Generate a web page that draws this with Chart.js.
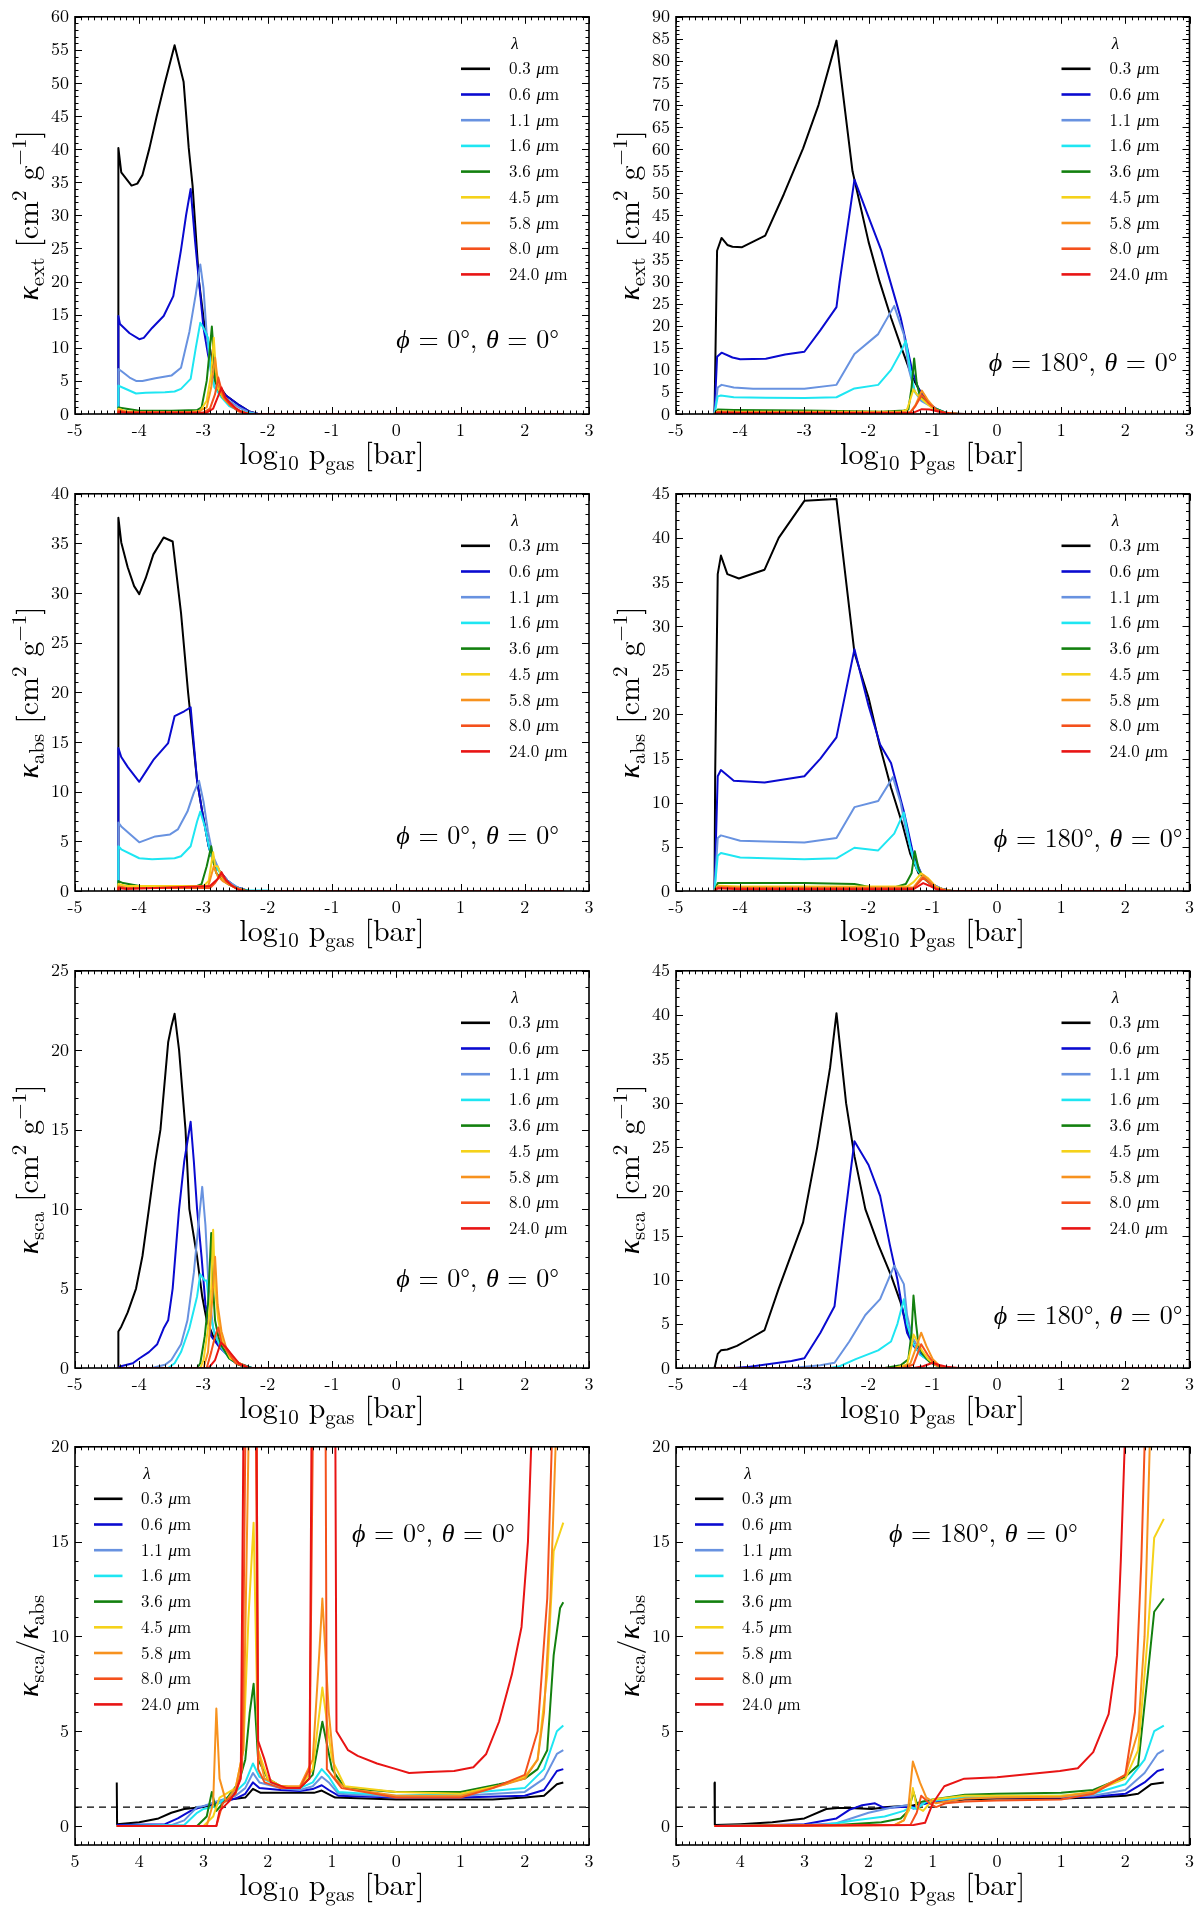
<!DOCTYPE html>
<html><head><meta charset="utf-8">
<script src="https://cdn.jsdelivr.net/npm/chart.js@4.4.1/dist/chart.umd.min.js"></script>
<style>
html,body{margin:0;padding:0;background:#fff;}
#wrap{position:relative;width:1200px;height:1910px;background:#fff;overflow:hidden;}
canvas{position:absolute;}
</style></head><body><div id="wrap"></div>
<script>
// ---------- categories / labels ----------
const WAVELENGTHS = ['0.3','0.6','1.1','1.6','3.6','4.5','5.8','8.0','24.0'];
const X_TICKS = [-5,-4,-3,-2,-1,0,1,2,3];
const Y_TICKS_EXT0 = [0,5,10,15,20,25,30,35,40,45,50,55,60];
const Y_TICKS_EXT180 = [0,5,10,15,20,25,30,35,40,45,50,55,60,65,70,75,80,85,90];
const Y_TICKS_ABS0 = [0,5,10,15,20,25,30,35,40];
const Y_TICKS_ABS180 = [0,5,10,15,20,25,30,35,40,45];
const Y_TICKS_SCA0 = [0,5,10,15,20,25];
const Y_TICKS_SCA180 = [0,5,10,15,20,25,30,35,40,45];
const Y_TICKS_RATIO = [0,5,10,15,20];

// ---------- kappa_ext, phi=0 ----------
const ext0_w03 = [[-4.33,0],[-4.325,40.2],[-4.28,36.5],[-4.12,34.5],[-4.03,34.8],[-3.95,36.1],[-3.84,40.2],[-3.73,44.9],[-3.61,49.7],[-3.45,55.7],[-3.31,50.2],[-3.23,40.2],[-3.17,34.5],[-3.07,20],[-2.98,13],[-2.9,10],[-2.85,7],[-2.77,4.5],[-2.65,2.8],[-2.47,1.5],[-2.29,0.4],[-2.15,0],[2.6,0]];
const ext0_w06 = [[-4.33,0],[-4.325,14.8],[-4.3,13.6],[-4.15,12.2],[-4.0,11.3],[-3.93,11.5],[-3.8,13],[-3.62,14.8],[-3.47,17.8],[-3.35,24.8],[-3.27,30.1],[-3.2,34],[-3.13,26],[-3.07,20],[-3.0,13],[-2.93,9],[-2.86,6],[-2.78,4.2],[-2.65,2.8],[-2.47,1.5],[-2.29,0.4],[-2.15,0],[2.6,0]];
const ext0_w11 = [[-4.33,0],[-4.325,6.8],[-4.28,6.5],[-4.15,5.5],[-4.05,5.0],[-3.95,5.0],[-3.75,5.4],[-3.5,5.8],[-3.35,7.0],[-3.22,12.4],[-3.12,18.1],[-3.05,22.6],[-3.0,19],[-2.95,12],[-2.88,6],[-2.82,4],[-2.72,3],[-2.6,2],[-2.45,1],[-2.3,0.3],[-2.15,0],[2.6,0]];
const ext0_w16 = [[-4.33,0],[-4.325,4.3],[-4.26,4.0],[-4.05,3.1],[-3.9,3.2],[-3.6,3.3],[-3.45,3.4],[-3.35,3.8],[-3.2,5.3],[-3.12,10],[-3.05,13.8],[-3.0,13],[-2.93,11.5],[-2.88,6],[-2.83,4],[-2.72,2.5],[-2.6,1.2],[-2.4,0.3],[-2.2,0],[2.6,0]];
const ext0_w36 = [[-4.33,0],[-4.325,1],[-4.2,0.8],[-4.0,0.5],[-3.5,0.5],[-3.1,0.6],[-3.03,1],[-2.95,5],[-2.9,10],[-2.87,13.2],[-2.84,9],[-2.82,5],[-2.76,3.5],[-2.7,2.5],[-2.6,1.5],[-2.45,0.5],[-2.3,0],[2.6,0]];
const ext0_w45 = [[-4.33,0],[-4.325,0.8],[-4.2,0.4],[-4.0,0.3],[-3.2,0.3],[-3.05,0.5],[-2.95,2],[-2.88,6],[-2.84,11.5],[-2.81,7],[-2.78,4],[-2.7,2.5],[-2.6,1.5],[-2.45,0.5],[-2.3,0],[2.6,0]];
const ext0_w58 = [[-4.33,0],[-4.325,0.6],[-4.2,0.3],[-3.1,0.3],[-2.95,1],[-2.88,4],[-2.82,8.5],[-2.79,6],[-2.74,3.5],[-2.68,2.3],[-2.58,1.3],[-2.45,0.4],[-2.3,0],[2.6,0]];
const ext0_w80 = [[-4.33,0],[-4.325,0.5],[-4.2,0.25],[-3.0,0.2],[-2.9,0.8],[-2.82,3],[-2.77,5.5],[-2.73,4],[-2.68,2.5],[-2.58,1.3],[-2.45,0.4],[-2.3,0],[2.6,0]];
const ext0_w240 = [[-4.33,0],[-4.325,0.3],[-4.2,0.2],[-2.95,0.2],[-2.85,0.8],[-2.78,2.5],[-2.72,4],[-2.66,2.5],[-2.6,1.8],[-2.5,0.9],[-2.4,0.3],[-2.3,0],[2.6,0]];

// ---------- kappa_ext, phi=180 ----------
const ext180_w03 = [[-4.4,0],[-4.36,37],[-4.29,39.9],[-4.2,38.3],[-4.12,37.9],[-3.97,37.8],[-3.61,40.4],[-3.32,49.8],[-3.02,60.2],[-2.78,70],[-2.5,84.6],[-2.36,68],[-2.25,55],[-2.0,39],[-1.83,30.1],[-1.65,21.8],[-1.47,14.3],[-1.32,8.3],[-1.17,4.5],[-1.0,1.5],[-0.85,0.4],[-0.7,0.1],[-0.5,0],[2.0,0]];
const ext180_w06 = [[-4.4,0],[-4.36,13],[-4.29,13.9],[-4.12,12.8],[-4.0,12.4],[-3.6,12.5],[-3.3,13.5],[-3.0,14.1],[-2.75,19],[-2.5,24.2],[-2.45,30],[-2.22,53.1],[-2.01,45],[-1.8,37],[-1.62,27.9],[-1.5,21.8],[-1.41,15.8],[-1.32,9.8],[-1.23,6],[-1.11,3],[-0.94,1.1],[-0.8,0.3],[-0.6,0],[2.0,0]];
const ext180_w11 = [[-4.4,0],[-4.35,6],[-4.29,6.6],[-4.1,6],[-3.8,5.7],[-3.0,5.7],[-2.5,6.6],[-2.22,13.6],[-1.85,18.1],[-1.6,24.5],[-1.45,18],[-1.37,10],[-1.28,5],[-1.18,3],[-1.0,1.5],[-0.8,0.3],[-0.6,0],[2.0,0]];
const ext180_w16 = [[-4.4,0],[-4.35,4],[-4.3,4.2],[-4.1,3.8],[-3.6,3.7],[-3.0,3.6],[-2.5,3.8],[-2.22,5.8],[-1.85,6.6],[-1.65,10],[-1.5,14],[-1.42,16.6],[-1.35,10],[-1.28,5],[-1.15,3],[-1.0,1.5],[-0.8,0.3],[-0.6,0],[2.0,0]];
const ext180_w36 = [[-4.4,0],[-4.35,1],[-4.1,0.9],[-3.0,0.8],[-2.2,0.6],[-1.8,0.5],[-1.45,0.8],[-1.38,1],[-1.33,6],[-1.29,12.6],[-1.25,7],[-1.2,4],[-1.12,3],[-1.0,1.5],[-0.8,0.3],[-0.6,0],[2.0,0]];
const ext180_w45 = [[-4.4,0],[-4.35,0.6],[-4.0,0.5],[-1.5,0.5],[-1.4,1],[-1.3,5.6],[-1.25,4.5],[-1.18,3.5],[-1.1,2.5],[-0.98,1],[-0.8,0.2],[-0.6,0],[2.0,0]];
const ext180_w58 = [[-4.4,0],[-4.35,0.5],[-4.0,0.4],[-1.35,0.4],[-1.27,2],[-1.17,5.3],[-1.07,3],[-0.95,1],[-0.8,0.2],[-0.6,0],[2.0,0]];
const ext180_w80 = [[-4.4,0],[-4.35,0.4],[-4.0,0.3],[-1.35,0.3],[-1.27,1.8],[-1.17,4.3],[-1.07,2.5],[-0.95,1],[-0.8,0.2],[-0.6,0],[2.0,0]];
const ext180_w240 = [[-4.4,0],[-4.35,0.3],[-4.0,0.2],[-1.3,0.3],[-1.17,1.1],[-1.05,1],[-0.9,0.5],[-0.75,0.1],[-0.6,0],[2.0,0]];

// ---------- kappa_abs, phi=0 ----------
const abs0_w03 = [[-4.33,0],[-4.325,37.6],[-4.28,35.1],[-4.18,32.6],[-4.08,30.7],[-4.0,29.9],[-3.9,31.5],[-3.78,33.9],[-3.62,35.6],[-3.48,35.2],[-3.35,28],[-3.24,20],[-3.2,17.5],[-3.1,11.1],[-3.02,8],[-2.92,4.5],[-2.85,3],[-2.75,2],[-2.62,1],[-2.5,0.4],[-2.3,0],[2.6,0]];
const abs0_w06 = [[-4.33,0],[-4.325,14.4],[-4.28,13.5],[-4.18,12.5],[-4.0,11],[-3.9,12],[-3.78,13.2],[-3.55,14.9],[-3.45,17.6],[-3.3,18.1],[-3.2,18.5],[-3.1,11.1],[-3.02,8],[-2.92,4.5],[-2.85,3],[-2.75,2],[-2.62,1],[-2.5,0.4],[-2.3,0],[2.6,0]];
const abs0_w11 = [[-4.33,0],[-4.325,6.9],[-4.28,6.5],[-4.0,4.9],[-3.75,5.5],[-3.52,5.7],[-3.4,6.2],[-3.25,8],[-3.15,9.9],[-3.07,11.1],[-3.0,9],[-2.93,6],[-2.85,3.5],[-2.75,2],[-2.62,1],[-2.45,0.3],[-2.3,0],[2.6,0]];
const abs0_w16 = [[-4.33,0],[-4.325,4.5],[-4.28,4.2],[-4.0,3.3],[-3.8,3.2],[-3.45,3.3],[-3.35,3.5],[-3.2,4.5],[-3.1,7],[-3.05,8],[-2.98,6.5],[-2.9,4],[-2.82,2.5],[-2.7,1.5],[-2.6,0.7],[-2.45,0.2],[-2.3,0.05],[-2.0,0.05],[-1.95,0],[2.6,0]];
const abs0_w36 = [[-4.33,0],[-4.325,1],[-4.25,0.8],[-4.0,0.5],[-3.1,0.5],[-3.03,0.7],[-2.95,2.5],[-2.88,4.5],[-2.85,3],[-2.8,1.8],[-2.72,1.2],[-2.62,0.7],[-2.45,0.2],[-2.3,0],[2.6,0]];
const abs0_w45 = [[-4.33,0],[-4.325,0.7],[-4.2,0.5],[-3.0,0.5],[-2.92,1],[-2.85,3.9],[-2.82,2.5],[-2.78,2.5],[-2.7,1.2],[-2.5,0.3],[-2.35,0],[2.6,0]];
const abs0_w58 = [[-4.33,0],[-4.325,0.5],[-4.2,0.3],[-3.0,0.3],[-2.92,0.6],[-2.84,2.5],[-2.78,1.5],[-2.7,1],[-2.5,0.3],[-2.35,0],[2.6,0]];
const abs0_w80 = [[-4.33,0],[-4.325,0.4],[-4.2,0.3],[-2.9,0.3],[-2.82,0.8],[-2.76,1.4],[-2.72,1.6],[-2.65,1],[-2.5,0.3],[-2.35,0],[2.6,0]];
const abs0_w240 = [[-4.33,0],[-4.325,0.3],[-4.2,0.2],[-2.9,0.5],[-2.78,1.2],[-2.72,1.9],[-2.65,1.1],[-2.57,0.6],[-2.45,0.1],[-2.35,0],[2.6,0]];

// ---------- kappa_abs, phi=180 ----------
const abs180_w03 = [[-4.4,0],[-4.39,13],[-4.35,35.9],[-4.3,38],[-4.2,35.9],[-4.02,35.4],[-3.62,36.4],[-3.4,40],[-3.0,44.2],[-2.5,44.4],[-2.22,27],[-2.0,21.9],[-1.83,16.6],[-1.65,11.7],[-1.47,7.5],[-1.35,4.2],[-1.22,2],[-1.05,1],[-0.9,0.3],[-0.7,0],[2.0,0]];
const abs180_w06 = [[-4.4,0],[-4.35,13],[-4.3,13.7],[-4.1,12.5],[-3.62,12.3],[-3.0,13],[-2.75,15],[-2.5,17.4],[-2.22,27.4],[-2.0,21],[-1.82,16.6],[-1.65,14.5],[-1.45,9],[-1.3,4],[-1.18,2],[-1.02,0.8],[-0.85,0.2],[-0.7,0],[2.0,0]];
const abs180_w11 = [[-4.4,0],[-4.35,6],[-4.3,6.3],[-4.0,5.7],[-3.6,5.6],[-3.0,5.5],[-2.5,6],[-2.22,9.5],[-1.85,10.2],[-1.62,12.9],[-1.5,10],[-1.42,7],[-1.3,3.5],[-1.18,2],[-1.02,0.8],[-0.85,0.2],[-0.7,0],[2.0,0]];
const abs180_w16 = [[-4.4,0],[-4.35,4],[-4.3,4.3],[-4.0,3.8],[-3.6,3.7],[-3.0,3.6],[-2.5,3.7],[-2.22,4.9],[-1.85,4.6],[-1.6,6.5],[-1.45,8.9],[-1.35,5],[-1.25,2.5],[-1.15,1.5],[-1.0,0.6],[-0.85,0.1],[-0.7,0],[2.0,0]];
const abs180_w36 = [[-4.4,0],[-4.35,0.9],[-3.0,0.9],[-2.22,0.8],[-1.95,0.4],[-1.6,0.4],[-1.42,0.8],[-1.33,2],[-1.28,4.5],[-1.22,2.5],[-1.15,1.5],[-1.0,0.6],[-0.85,0.1],[-0.7,0],[2.0,0]];
const abs180_w45 = [[-4.4,0],[-4.35,0.6],[-4.0,0.5],[-1.4,0.5],[-1.3,1],[-1.18,2],[-1.08,1.5],[-0.95,0.5],[-0.8,0.1],[-0.7,0],[2.0,0]];
const abs180_w58 = [[-4.4,0],[-4.35,0.5],[-4.0,0.4],[-1.3,0.4],[-1.15,1.8],[-1.05,1.2],[-0.95,0.4],[-0.8,0.1],[-0.7,0],[2.0,0]];
const abs180_w80 = [[-4.4,0],[-4.35,0.4],[-4.0,0.3],[-1.3,0.3],[-1.15,1.5],[-1.05,0.9],[-0.95,0.3],[-0.8,0.05],[-0.7,0],[2.0,0]];
const abs180_w240 = [[-4.4,0],[-4.35,0.3],[-4.0,0.2],[-1.3,0.2],[-1.15,0.9],[-1.05,0.6],[-0.95,0.2],[-0.8,0],[2.0,0]];

// ---------- kappa_sca, phi=0 ----------
const sca0_w03 = [[-4.33,0],[-4.325,2.3],[-4.28,2.6],[-4.18,3.5],[-4.05,5.0],[-3.95,7.05],[-3.85,10],[-3.75,13],[-3.67,15],[-3.55,20.5],[-3.5,21.5],[-3.45,22.3],[-3.38,20],[-3.28,15],[-3.22,10],[-3.1,7],[-3.02,4.5],[-2.95,3],[-2.85,2],[-2.72,1.3],[-2.6,0.8],[-2.45,0.3],[-2.25,0],[2.6,0]];
const sca0_w06 = [[-4.33,0],[-4.3,0.1],[-4.1,0.3],[-4.0,0.6],[-3.85,1],[-3.72,1.5],[-3.62,2.5],[-3.55,3],[-3.48,5],[-3.38,10],[-3.3,13],[-3.2,15.5],[-3.15,13],[-3.1,10],[-3.03,7],[-2.97,4],[-2.88,2],[-2.75,1.3],[-2.6,0.7],[-2.45,0.2],[-2.25,0],[2.6,0]];
const sca0_w11 = [[-4.33,0],[-3.8,0],[-3.6,0.2],[-3.5,0.5],[-3.35,1.5],[-3.25,3],[-3.15,6],[-3.08,9],[-3.02,11.4],[-2.97,9],[-2.92,5],[-2.85,2.5],[-2.75,1.4],[-2.6,0.7],[-2.45,0.2],[-2.25,0],[2.6,0]];
const sca0_w16 = [[-4.33,0],[-3.55,0],[-3.45,0.3],[-3.35,1],[-3.22,2.5],[-3.1,4.5],[-3.05,5.9],[-2.98,5.5],[-2.95,5.5],[-2.9,3.5],[-2.82,2],[-2.72,1.3],[-2.6,0.6],[-2.45,0.2],[-2.25,0],[2.6,0]];
const sca0_w36 = [[-4.33,0],[-3.1,0],[-3.05,0.3],[-2.98,2],[-2.93,4],[-2.88,8.5],[-2.85,5],[-2.82,3],[-2.77,2],[-2.72,1.4],[-2.6,0.6],[-2.45,0.2],[-2.25,0],[2.6,0]];
const sca0_w45 = [[-4.33,0],[-3.05,0],[-3.0,0.5],[-2.93,2.5],[-2.88,5],[-2.85,8.7],[-2.82,5],[-2.77,3],[-2.7,1.6],[-2.58,0.6],[-2.3,0],[2.6,0]];
const sca0_w58 = [[-4.33,0],[-3.0,0],[-2.93,1],[-2.87,4],[-2.82,7],[-2.78,4],[-2.72,2.3],[-2.65,1.3],[-2.5,0.4],[-2.3,0],[2.6,0]];
const sca0_w80 = [[-4.33,0],[-2.95,0],[-2.88,1],[-2.82,2],[-2.77,2.55],[-2.72,1.6],[-2.62,1],[-2.5,0.3],[-2.3,0],[2.6,0]];
const sca0_w240 = [[-4.33,0],[-2.92,0],[-2.82,0.5],[-2.73,1.6],[-2.65,1.3],[-2.55,0.8],[-2.45,0.3],[-2.3,0],[2.6,0]];

// ---------- kappa_sca, phi=180 ----------
const sca180_w03 = [[-4.4,0],[-4.35,1.6],[-4.3,2.0],[-4.2,2.1],[-4.05,2.5],[-3.88,3.2],[-3.62,4.3],[-3.4,9],[-3.02,16.5],[-2.8,25],[-2.6,34],[-2.5,40.2],[-2.35,30],[-2.22,24],[-2.05,18],[-1.85,14],[-1.65,10.5],[-1.5,7.4],[-1.38,4],[-1.28,2.5],[-1.15,1.5],[-1.0,0.6],[-0.85,0.1],[-0.7,0],[2.6,0]];
const sca180_w06 = [[-4.4,0],[-4.1,0],[-3.9,0.1],[-3.6,0.4],[-3.2,0.8],[-3.0,1.1],[-2.75,4],[-2.53,7],[-2.37,17],[-2.22,25.7],[-2.0,23],[-1.82,19.5],[-1.67,14],[-1.55,10],[-1.48,7],[-1.4,4],[-1.3,2.5],[-1.15,1.3],[-1.0,0.5],[-0.85,0.1],[-0.7,0],[2.6,0]];
const sca180_w11 = [[-4.4,0],[-3.2,0],[-2.75,0.3],[-2.53,0.6],[-2.3,3],[-2.05,6],[-1.82,7.8],[-1.6,11.6],[-1.45,9.5],[-1.4,6],[-1.32,3.5],[-1.2,2],[-1.08,1],[-0.95,0.3],[-0.8,0],[2.6,0]];
const sca180_w16 = [[-4.4,0],[-2.6,0],[-2.45,0.2],[-2.2,1],[-1.85,2],[-1.65,3],[-1.55,5],[-1.45,7.8],[-1.4,5],[-1.32,3],[-1.2,1.5],[-1.05,0.8],[-0.9,0.2],[-0.8,0],[2.6,0]];
const sca180_w36 = [[-4.4,0],[-1.75,0],[-1.5,0.3],[-1.38,1],[-1.33,4],[-1.3,8.2],[-1.26,5],[-1.22,2.5],[-1.15,1.5],[-1.05,0.7],[-0.92,0.2],[-0.8,0],[2.6,0]];
const sca180_w45 = [[-4.4,0],[-1.6,0],[-1.4,0.4],[-1.33,2.5],[-1.3,3.8],[-1.24,3],[-1.17,2],[-1.07,1],[-0.95,0.3],[-0.8,0],[2.6,0]];
const sca180_w58 = [[-4.4,0],[-1.5,0],[-1.35,0.5],[-1.25,2.5],[-1.18,4],[-1.1,2.5],[-1.0,1],[-0.9,0.3],[-0.8,0],[2.6,0]];
const sca180_w80 = [[-4.4,0],[-1.45,0],[-1.3,0.4],[-1.18,2.7],[-1.08,1.5],[-0.98,0.5],[-0.85,0],[2.6,0]];
const sca180_w240 = [[-4.4,0],[-1.3,0],[-1.15,0.2],[-1.0,0.6],[-0.88,0.3],[-0.75,0.1],[-0.6,0],[2.6,0]];

// ---------- kappa_sca / kappa_abs, phi=0 ----------
const rat0_w03 = [[-4.35,2.3],[-4.345,0.1],[-4.0,0.2],[-3.7,0.4],[-3.5,0.7],[-3.3,0.9],[-3.0,1.0],[-2.59,1.4],[-2.35,1.5],[-2.23,1.96],[-2.11,1.75],[-1.5,1.75],[-1.28,1.75],[-1.16,1.87],[-0.95,1.5],[0,1.4],[1.5,1.4],[2,1.5],[2.3,1.6],[2.5,2.2],[2.6,2.3]];
const rat0_w06 = [[-4.35,0.05],[-3.6,0.1],[-3.4,0.4],[-3.2,0.8],[-3.0,1.05],[-2.8,1.2],[-2.5,1.45],[-2.35,1.7],[-2.23,2.3],[-2.13,2.0],[-1.8,1.9],[-1.5,1.85],[-1.3,1.95],[-1.16,2.15],[-1.05,1.9],[-0.9,1.6],[0,1.5],[1,1.5],[2,1.6],[2.3,1.9],[2.5,2.9],[2.6,3.0]];
const rat0_w11 = [[-4.35,0],[-3.5,0.05],[-3.3,0.3],[-3.1,1.0],[-3.0,1.05],[-2.8,1.3],[-2.5,1.6],[-2.35,2.0],[-2.23,2.8],[-2.13,2.3],[-1.8,2.0],[-1.5,1.9],[-1.3,2.1],[-1.16,2.6],[-1.05,2.3],[-0.9,1.7],[0,1.55],[1,1.6],[2,1.8],[2.3,2.5],[2.5,3.8],[2.6,4.0]];
const rat0_w16 = [[-4.35,0],[-3.3,0.05],[-3.1,0.7],[-3.0,0.9],[-2.85,1.0],[-2.5,1.8],[-2.35,2.3],[-2.23,3.3],[-2.13,2.6],[-1.8,2.05],[-1.5,2.0],[-1.3,2.3],[-1.16,3.0],[-1.05,2.6],[-0.9,1.8],[0,1.6],[1,1.7],[2,2.0],[2.3,3.0],[2.5,5.0],[2.6,5.3]];
const rat0_w36 = [[-4.35,0],[-3.1,0],[-2.95,0.5],[-2.87,1.8],[-2.8,0.8],[-2.65,1.4],[-2.45,2.3],[-2.35,3.5],[-2.28,6],[-2.22,7.5],[-2.15,3.5],[-2.0,2.5],[-1.8,2.1],[-1.5,2.0],[-1.3,2.7],[-1.15,5.5],[-1.0,3.0],[-0.8,2.0],[0,1.8],[1,1.8],[1.6,2.2],[2.0,2.5],[2.2,3.0],[2.35,4.0],[2.45,9],[2.55,11.5],[2.6,11.8]];
const rat0_w45 = [[-4.35,0],[-3.0,0],[-2.85,0.5],[-2.75,1.5],[-2.5,2.0],[-2.38,4],[-2.3,11],[-2.22,16],[-2.15,4],[-2.0,2.5],[-1.8,2.1],[-1.5,2.0],[-1.3,3],[-1.15,7.3],[-1.0,3.5],[-0.8,2.1],[0,1.8],[1,1.7],[1.7,2.2],[2.0,2.6],[2.2,3.5],[2.35,8],[2.45,14.5],[2.6,16]];
const rat0_w58 = [[-4.35,0],[-2.95,0],[-2.85,1.2],[-2.8,6.2],[-2.75,2.5],[-2.65,1.3],[-2.5,2.0],[-2.38,4],[-2.3,20],[-2.27,40],[-2.2,40],[-2.15,4],[-2.05,2.5],[-1.8,2.1],[-1.5,2.1],[-1.3,3.5],[-1.2,9],[-1.15,12],[-1.05,6],[-0.95,2.5],[-0.8,2.0],[0,1.6],[1,1.6],[1.5,2.0],[2.0,2.5],[2.2,3.5],[2.3,6],[2.4,12],[2.48,20],[2.55,40],[2.6,40]];
const rat0_w80 = [[-4.35,0],[-2.8,0],[-2.7,1.2],[-2.5,1.7],[-2.4,3],[-2.35,20],[-2.3,40],[-2.22,40],[-2.15,3],[-2.05,2.3],[-1.8,2.0],[-1.5,2.0],[-1.35,3],[-1.3,20],[-1.27,40],[-1.12,40],[-1.08,3.0],[-0.85,2.0],[0,1.5],[1,1.5],[1.5,2.0],[2.0,2.7],[2.2,5],[2.35,12],[2.42,20],[2.5,40],[2.6,40]];
const rat0_w240 = [[-4.35,0],[-2.8,0],[-2.75,0.8],[-2.6,1.3],[-2.5,1.8],[-2.42,2.5],[-2.38,20],[-2.35,40],[-2.2,40],[-2.15,4.5],[-2.05,3.5],[-1.95,2.3],[-1.7,2.0],[-1.5,2.0],[-1.35,2.5],[-1.32,20],[-1.28,40],[-0.97,40],[-0.93,5],[-0.75,4],[-0.6,3.7],[-0.3,3.3],[0,3.0],[0.2,2.8],[0.5,2.85],[0.9,2.9],[1.2,3.1],[1.4,3.8],[1.6,5.5],[1.8,8],[1.95,10.5],[2.05,15],[2.1,20],[2.15,40],[2.6,40]];

// ---------- kappa_sca / kappa_abs, phi=180 ----------
const rat180_w03 = [[-4.4,2.3],[-4.395,0.05],[-4.0,0.1],[-3.5,0.2],[-3.0,0.4],[-2.66,0.9],[-2.48,0.95],[-2.3,0.95],[-1.95,0.9],[-1.7,1.0],[-1.3,1.1],[-1.0,1.25],[-0.5,1.4],[0,1.45],[1,1.45],[1.5,1.5],[2.0,1.6],[2.2,1.7],[2.4,2.2],[2.6,2.3]];
const rat180_w06 = [[-4.4,0],[-3.5,0.05],[-3.0,0.1],[-2.5,0.4],[-2.3,0.85],[-2.1,1.1],[-1.9,1.2],[-1.75,0.95],[-1.5,1.0],[-1.3,1.0],[-1.0,1.3],[-0.5,1.45],[0,1.5],[1,1.5],[1.5,1.55],[2.0,1.7],[2.3,2.3],[2.5,2.9],[2.6,3.0]];
const rat180_w11 = [[-4.4,0],[-3.0,0.05],[-2.5,0.15],[-2.0,0.7],[-1.6,1.0],[-1.4,1.1],[-1.3,0.9],[-1.1,1.3],[-0.5,1.5],[0,1.55],[1,1.55],[1.5,1.6],[2.0,1.9],[2.3,2.8],[2.5,3.8],[2.6,4.0]];
const rat180_w16 = [[-4.4,0],[-2.7,0.05],[-2.2,0.3],[-1.75,0.5],[-1.45,0.8],[-1.35,1.0],[-1.25,0.9],[-1.1,1.3],[-0.5,1.55],[0,1.6],[1,1.6],[1.5,1.7],[2.0,2.2],[2.3,3.5],[2.45,5.0],[2.6,5.3]];
const rat180_w36 = [[-4.4,0],[-2.5,0.05],[-1.8,0.2],[-1.5,0.4],[-1.38,0.8],[-1.3,1.8],[-1.25,1.2],[-1.15,1.3],[-1.0,1.4],[-0.5,1.65],[0,1.7],[1,1.75],[1.5,1.9],[2.0,2.6],[2.2,3.2],[2.35,8],[2.45,11.3],[2.6,12.0]];
const rat180_w45 = [[-4.4,0],[-1.6,0.05],[-1.45,0.3],[-1.35,1.0],[-1.31,2.0],[-1.25,1.0],[-1.15,0.8],[-1.0,1.4],[-0.5,1.6],[0,1.6],[1,1.6],[1.5,1.8],[2.0,2.5],[2.2,4],[2.35,10],[2.45,15.2],[2.6,16.2]];
const rat180_w58 = [[-4.4,0],[-1.6,0.05],[-1.45,0.3],[-1.38,1.0],[-1.31,3.4],[-1.2,2.3],[-1.1,1.5],[-0.95,1.2],[-0.5,1.45],[0,1.5],[1,1.55],[1.5,1.8],[2.0,2.7],[2.2,5],[2.3,10],[2.38,20],[2.45,40],[2.6,40]];
const rat180_w80 = [[-4.4,0],[-1.35,0.05],[-1.25,0.7],[-1.18,1.6],[-1.05,1.2],[-0.95,1.0],[-0.8,1.2],[-0.5,1.3],[0,1.35],[1,1.4],[1.5,1.7],[2.0,2.7],[2.15,6],[2.25,14],[2.3,20],[2.35,40],[2.6,40]];
const rat180_w240 = [[-4.4,0],[-1.3,0.05],[-1.12,0.17],[-1.0,1.2],[-0.82,2.1],[-0.51,2.5],[0,2.57],[0.98,2.9],[1.26,3.05],[1.5,3.9],[1.74,5.9],[1.87,9],[1.93,14],[1.99,20],[2.05,40],[2.6,40]];

// ---------- styles ----------
const COLORS = ['#000000','#0a0ad0','#6892e0','#1ee6f2','#13800f','#f5d21a','#f7921e','#f4501c','#e81414'];
const FONT = '"Latin Modern Roman", "Liberation Serif", serif';
const ROW_TOPS = [15, 492, 969, 1445];

// note: angle label; 'align' right => offset from plot right edge, left => offset from plot left edge
const PANELS = [
  {row:0,col:0,series:[ext0_w03,ext0_w06,ext0_w11,ext0_w16,ext0_w36,ext0_w45,ext0_w58,ext0_w80,ext0_w240],yt:Y_TICKS_EXT0,ymin:0,ymax:60,kind:'ext',legend:'right',phi:'0',nAlign:'right',ndx:30,ndy:331},
  {row:0,col:1,series:[ext180_w03,ext180_w06,ext180_w11,ext180_w16,ext180_w36,ext180_w45,ext180_w58,ext180_w80,ext180_w240],yt:Y_TICKS_EXT180,ymin:0,ymax:90,kind:'ext',legend:'right',phi:'180',nAlign:'right',ndx:12,ndy:354},
  {row:1,col:0,series:[abs0_w03,abs0_w06,abs0_w11,abs0_w16,abs0_w36,abs0_w45,abs0_w58,abs0_w80,abs0_w240],yt:Y_TICKS_ABS0,ymin:0,ymax:40,kind:'abs',legend:'right',phi:'0',nAlign:'right',ndx:30,ndy:350},
  {row:1,col:1,series:[abs180_w03,abs180_w06,abs180_w11,abs180_w16,abs180_w36,abs180_w45,abs180_w58,abs180_w80,abs180_w240],yt:Y_TICKS_ABS180,ymin:0,ymax:45,kind:'abs',legend:'right',phi:'180',nAlign:'right',ndx:7,ndy:353},
  {row:2,col:0,series:[sca0_w03,sca0_w06,sca0_w11,sca0_w16,sca0_w36,sca0_w45,sca0_w58,sca0_w80,sca0_w240],yt:Y_TICKS_SCA0,ymin:0,ymax:25,kind:'sca',legend:'right',phi:'0',nAlign:'right',ndx:30,ndy:316},
  {row:2,col:1,series:[sca180_w03,sca180_w06,sca180_w11,sca180_w16,sca180_w36,sca180_w45,sca180_w58,sca180_w80,sca180_w240],yt:Y_TICKS_SCA180,ymin:0,ymax:45,kind:'sca',legend:'right',phi:'180',nAlign:'right',ndx:7,ndy:353},
  {row:3,col:0,series:[rat0_w03,rat0_w06,rat0_w11,rat0_w16,rat0_w36,rat0_w45,rat0_w58,rat0_w80,rat0_w240],yt:Y_TICKS_RATIO,ymin:-1,ymax:20,kind:'ratio',legend:'left',phi:'0',nAlign:'left',ndx:277,ndy:95},
  {row:3,col:1,series:[rat180_w03,rat180_w06,rat180_w11,rat180_w16,rat180_w36,rat180_w45,rat180_w58,rat180_w80,rat180_w240],yt:Y_TICKS_RATIO,ymin:-1,ymax:20,kind:'ratio',legend:'left',phi:'180',nAlign:'left',ndx:213,ndy:95}
];

// ---------- rich text helpers ----------
function segFont(k, size){
  const small = (k==='sub'||k==='sup');
  const s = small ? size*0.7 : size;
  return (k==='i' ? 'italic ' : '') + s + 'px ' + FONT;
}
function segDy(k, size){ return k==='sub' ? size*0.2 : (k==='sup' ? -size*0.4 : 0); }
function richWidth(ctx, segs, size){
  let w=0; segs.forEach(([t,k])=>{ctx.font=segFont(k,size); w+=ctx.measureText(t).width;}); return w;
}
function drawRich(ctx, segs, x, y, size, align){
  const w = richWidth(ctx, segs, size);
  let cx = align==='center' ? x-w/2 : (align==='right' ? x-w : x);
  ctx.textAlign='left'; ctx.textBaseline='alphabetic'; ctx.fillStyle='#000';
  segs.forEach(([t,k])=>{ctx.font=segFont(k,size); ctx.fillText(t, cx, y+segDy(k,size)); cx+=ctx.measureText(t).width;});
}

function yTitleSegs(kind){
  if (kind==='ratio') return [['κ','i'],['sca','sub'],['/','r'],['κ','i'],['abs','sub']];
  return [['κ','i'],[kind,'sub'],[' [cm','r'],['2','sup'],[' g','r'],['−1','sup'],[']','r']];
}
const X_TITLE = [['log','r'],['10','sub'],[' p','r'],['gas','sub'],[' [bar]','r']];

function makeDecor(p){
  return {
    id:'decor'+p.row+p.col,
    beforeDatasetsDraw(chart){
      if (p.kind!=='ratio') return;
      const {ctx, chartArea:a} = chart; const ys = chart.scales.y;
      const py = ys.getPixelForValue(1);
      ctx.save(); ctx.strokeStyle='#000'; ctx.lineWidth=1.2; ctx.setLineDash([7,5]);
      ctx.beginPath(); ctx.moveTo(a.left, py); ctx.lineTo(a.right, py); ctx.stroke(); ctx.restore();
    },
    afterDatasetsDraw(chart){
      const {ctx, chartArea:a} = chart; const xs = chart.scales.x, ys = chart.scales.y;
      ctx.save(); ctx.strokeStyle='#000'; ctx.lineWidth=1; ctx.beginPath();
      const xmaj = X_TICKS[1]-X_TICKS[0], xminStep = xmaj/10;
      for (let k=0; ; k++){
        const v = X_TICKS[0] + k*xminStep; if (v > X_TICKS[X_TICKS.length-1]+1e-9) break;
        const isMaj = k%10===0; const L = isMaj?7:3.5;
        const px = Math.round(xs.getPixelForValue(v))+0.5;
        ctx.moveTo(px,a.bottom); ctx.lineTo(px,a.bottom-L);
        ctx.moveTo(px,a.top); ctx.lineTo(px,a.top+L);
      }
      const ymajStep = p.yt[1]-p.yt[0], yminStep = ymajStep/5;
      const start = Math.ceil(p.ymin/yminStep - 1e-9);
      for (let k=start; k*yminStep <= p.ymax+1e-9; k++){
        const v = k*yminStep; const isMaj = (k%5===0); const L = isMaj?7:3.5;
        const py = Math.round(ys.getPixelForValue(v))+0.5;
        ctx.moveTo(a.left,py); ctx.lineTo(a.left+L,py);
        ctx.moveTo(a.right,py); ctx.lineTo(a.right-L,py);
      }
      ctx.stroke();
      ctx.lineWidth=1.6; ctx.strokeRect(a.left, a.top, a.right-a.left, a.bottom-a.top);
      ctx.restore();
    },
    afterDraw(chart){
      const {ctx, chartArea:a} = chart;
      ctx.save();
      drawRich(ctx, X_TITLE, (a.left+a.right)/2, a.bottom+50, 30, 'center');
      ctx.save();
      ctx.translate(a.left-37, (a.top+a.bottom)/2);
      ctx.rotate(-Math.PI/2);
      drawRich(ctx, yTitleSegs(p.kind), 0, 0, 30, 'center');
      ctx.restore();
      const ds = chart.data.datasets;
      let lx0, lx1, tx;
      if (p.legend==='right'){ lx0=a.right-128; lx1=a.right-99; tx=a.right-80; }
      else { lx0=a.left+19; lx1=a.left+47.5; tx=a.left+66; }
      drawRich(ctx, [['λ','i']], tx+6, a.top+32, 17, 'center');
      ds.forEach((d,i)=>{
        const cy = a.top+52+25.7*i;
        ctx.strokeStyle=d.borderColor; ctx.lineWidth=2.6; ctx.lineCap='butt';
        ctx.beginPath(); ctx.moveTo(lx0,cy); ctx.lineTo(lx1,cy); ctx.stroke();
        const num = d.label.split(' ')[0];
        drawRich(ctx, [[num+' ','r'],['μ','i'],['m','r']], tx, cy+5.5, 17, 'left');
      });
      const note = [['ϕ','i'],[' = '+p.phi+'°, ','r'],['θ','i'],[' = 0°','r']];
      if (p.nAlign==='right') drawRich(ctx, note, a.right-p.ndx, a.top+p.ndy, 26, 'right');
      else drawRich(ctx, note, a.left+p.ndx, a.top+p.ndy, 26, 'left');
      ctx.restore();
    }
  };
}

const wrap = document.getElementById('wrap');
PANELS.forEach(p=>{
  const canvas = document.createElement('canvas');
  const h = p.row===3 ? 478 : 477;
  canvas.width = 600; canvas.height = h;
  canvas.style.left = (p.col*600)+'px';
  canvas.style.top = (ROW_TOPS[p.row]-15)+'px';
  canvas.style.width='600px'; canvas.style.height=h+'px';
  wrap.appendChild(canvas);
  const yw = p.col===0 ? 75 : 76;
  new Chart(canvas.getContext('2d'), {
    type:'line',
    data:{datasets: p.series.map((pts,i)=>({
      label: WAVELENGTHS[i]+' μm',
      data: pts.map(([x,y])=>({x,y})),
      borderColor: COLORS[i], backgroundColor: COLORS[i],
      borderWidth: 2, pointRadius: 0, pointHoverRadius: 0, tension: 0, fill: false,
      borderJoinStyle:'round', order: 8-i
    }))},
    options:{
      responsive:false, animation:false, events:[],
      layout:{padding:{top:15,left:0,right:(p.col===0?11:10),bottom:0}},
      plugins:{legend:{display:false}, tooltip:{enabled:false}, title:{display:false}},
      scales:{
        x:{type:'linear', min:-5, max:3,
          grid:{display:false, drawTicks:false}, border:{display:false},
          ticks:{color:'#000', font:{family:FONT,size:18}, padding:6, autoSkip:false, maxRotation:0,
            callback:(v)=> p.kind==='ratio' ? String(Math.abs(v)) : String(v)},
          afterBuildTicks:(s)=>{ s.ticks = X_TICKS.map(v=>({value:v})); },
          afterFit:(s)=>{ s.height = 63; }
        },
        y:{type:'linear', min:p.ymin, max:p.ymax,
          grid:{display:false, drawTicks:false}, border:{display:false},
          ticks:{color:'#000', font:{family:FONT,size:18}, padding:6, autoSkip:false},
          afterBuildTicks:(s)=>{ s.ticks = p.yt.map(v=>({value:v})); },
          afterFit:(s)=>{ s.width = yw; }
        }
      }
    },
    plugins:[makeDecor(p)]
  });
});
</script>
</body></html>
